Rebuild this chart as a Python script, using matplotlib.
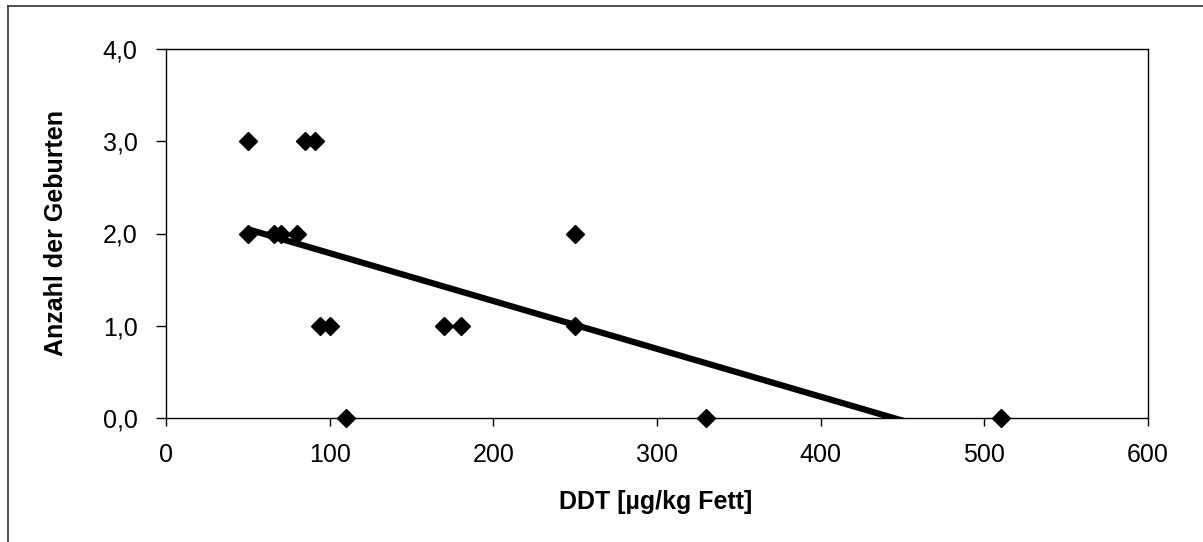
import numpy as np
import matplotlib
matplotlib.use("Agg")
import matplotlib.pyplot as plt
from matplotlib.lines import Line2D

# DDT im Fett (µg/kg) und Anzahl der Geburten
ddt = [50, 85, 91, 50, 66, 70, 80, 94, 100, 110, 170, 180, 250, 250, 330, 510]
geburten = [3, 3, 3, 2, 2, 2, 2, 1, 1, 0, 1, 1, 2, 1, 0, 0]

x_ticks = [0, 100, 200, 300, 400, 500, 600]
y_ticks = [0, 1, 2, 3, 4]
y_labels = ["0,0", "1,0", "2,0", "3,0", "4,0"]

plt.rcParams['font.family'] = ['Liberation Sans', 'DejaVu Sans']

W, H = 1203, 542
fig = plt.figure(figsize=(W / 100, H / 100), dpi=100)
ax = fig.add_axes([166 / W, (H - 418) / H, (1148 - 166) / W, (418 - 49) / H])

ax.plot(ddt, geburten, linestyle='none', marker='D', markersize=9,
        color='black', zorder=3, clip_on=False)

# lineare Trendlinie
m, b = np.polyfit(ddt, geburten, 1)
xs = np.array([min(ddt), max(ddt)])
ax.plot(xs, m * xs + b, color='black', linewidth=4.5, zorder=2,
        solid_capstyle='butt')

ax.set_xlim(0, 600)
ax.set_ylim(0, 4)
ax.set_xticks(x_ticks)
ax.set_yticks(y_ticks)
ax.set_yticklabels(y_labels)

ax.tick_params(axis='x', direction='out', length=6, width=1, pad=12, labelsize=18)
ax.tick_params(axis='y', direction='out', length=7, width=1, pad=13.5, labelsize=18)
for s in ax.spines.values():
    s.set_linewidth(1)
    s.set_color('black')

ax.set_xlabel("DDT [µg/kg Fett]", fontsize=18, fontweight='bold')
ax.set_ylabel("Anzahl der Geburten", fontsize=18, fontweight='bold')
ax.xaxis.set_label_coords((656 - 166) / 982, (418 - 502) / 369)
ax.xaxis.label.set_va('center')
ax.yaxis.set_label_coords((56 - 166) / 982, 0.5)
ax.yaxis.label.set_va('center')

# Rahmen um das Diagramm (rechts und unten abgeschnitten)
fig.add_artist(Line2D([7.5 / W, 7.5 / W], [0, 1 - 5.5 / H], color='#333333', linewidth=1.2))
fig.add_artist(Line2D([7.5 / W, 1], [1 - 5.5 / H, 1 - 5.5 / H], color='#333333', linewidth=1.2))

fig.savefig("out.png", dpi=100)
